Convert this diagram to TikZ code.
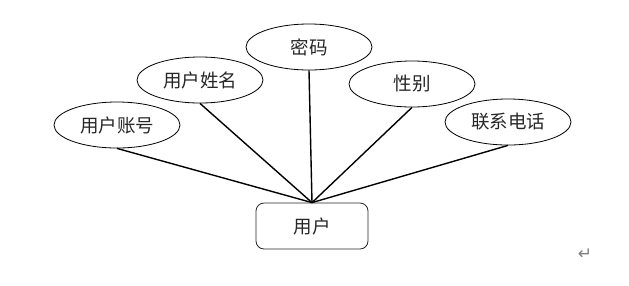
\documentclass[tikz,border=0pt]{standalone}
\usepackage{fontspec}
\newfontfamily\cjk{Noto Sans CJK SC}
\newfontfamily\symfont{DejaVu Sans}
\usetikzlibrary{shapes.geometric}
\begin{document}
\begin{tikzpicture}[x=1pt, y=-1pt, font=\cjk\fontsize{18.5}{22}\selectfont,
  attr/.style={draw, line width=0.8pt, ellipse, minimum width=126pt, minimum height=46pt, inner sep=0pt, text=black!85},
  entity/.style={draw, line width=0.8pt, black!85, rounded corners=8pt, minimum width=112pt, minimum height=46pt, text=black!85},
  link/.style={line width=1.4pt}]
  \useasboundingbox (0,0) rectangle (629,285);
  \node[attr] (zh) at (117,125) {用户账号};
  \node[attr] (xm) at (200,80) {用户姓名};
  \node[attr] (mm) at (309,47) {密码};
  \node[attr] (xb) at (412,84) {性别};
  \node[attr] (dh) at (508,122) {联系电话};
  \node[entity] (user) at (312,226) {用户};
  \foreach \a in {zh,xm,mm,xb,dh}
    \draw[link] (\a.south) -- (user.north);
  \node[gray, font=\symfont\fontsize{17}{17}\selectfont] (ret) at (585,254) {↵};
\end{tikzpicture}
\end{document}
